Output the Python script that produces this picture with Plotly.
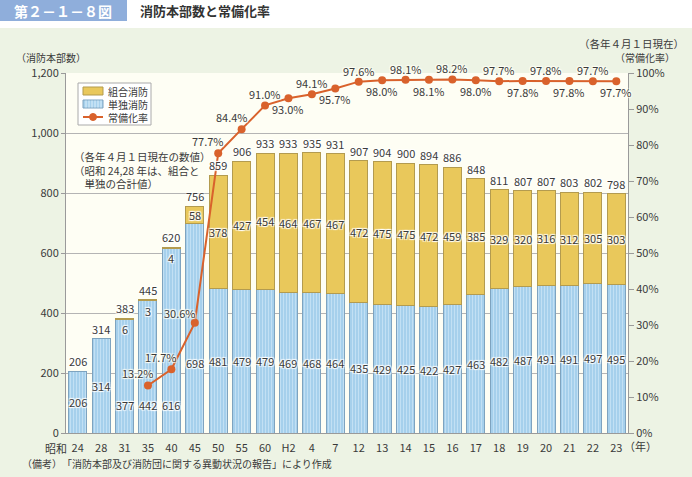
import plotly.graph_objects as go

# ---------------- data ----------------
categories = ["昭和24", "28", "31", "35", "40", "45", "50", "55", "60", "H2", "4", "7",
              "12", "13", "14", "15", "16", "17", "18", "19", "20", "21", "22", "23"]
tick_labels = ["24", "28", "31", "35", "40", "45", "50", "55", "60", "H2", "4", "7",
               "12", "13", "14", "15", "16", "17", "18", "19", "20", "21", "22", "23"]
tandoku = [206, 314, 377, 442, 616, 698, 481, 479, 479, 469, 468, 464,
           435, 429, 425, 422, 427, 463, 482, 487, 491, 491, 497, 495]
kumiai = [None, None, 6, 3, 4, 58, 378, 427, 454, 464, 467, 467,
          472, 475, 475, 472, 459, 385, 329, 320, 316, 312, 305, 303]
totals = [206, 314, 383, 445, 620, 756, 859, 906, 933, 933, 935, 931,
          907, 904, 900, 894, 886, 848, 811, 807, 807, 803, 802, 798]
rate = [None, None, None, 13.2, 17.7, 30.6, 77.7, 84.4, 91.0, 93.0, 94.1, 95.7,
        97.6, 98.0, 98.1, 98.1, 98.2, 98.0, 97.7, 97.8, 97.8, 97.8, 97.7, 97.7]
left_ticks = [0, 200, 400, 600, 800, 1000, 1200]
right_ticks = [0, 10, 20, 30, 40, 50, 60, 70, 80, 90, 100]
legend_names = ["組合消防", "単独消防", "常備化率"]

# ---------------- style ----------------
W, H = 692, 477
L, R, T, B = 66, 64, 73, 44
FONT = "Noto Sans CJK JP"
TXT = "#3a3a3a"
GREEN = "#EDF3E4"
CREAM = "#FEFEF4"
YELLOW = "#E9C85B"
YELLOW_LINE = "#B39B4F"
BLUE = "#A6D0EC"
BLUE_FG = "#DDF0FB"
BLUE_LINE = "#7EA3BF"
ORANGE = "#D9622C"
GRID = "#B4B4B4"
AXIS = "#9A9A9A"
HALO = "1px 1px 1px #fff, -1px -1px 1px #fff, 1px -1px 1px #fff, -1px 1px 1px #fff"
HALO_C = ("1px 1px 1px %s, -1px -1px 1px %s, 1px -1px 1px %s, -1px 1px 1px %s"
          % (CREAM, CREAM, CREAM, CREAM))

pw, ph = W - L - R, H - T - B
idx = list(range(len(categories)))


def px(x):
    return (x - L) / pw


def py(y):
    return (H - B - y) / ph


def note(x, y, text, xanchor="center", yanchor="middle", **font):
    f = dict(family=FONT, size=10.5, color=TXT)
    f.update(font)
    return dict(x=px(x), y=py(y), xref="paper", yref="paper", text=text,
                showarrow=False, xanchor=xanchor, yanchor=yanchor, font=f)


fig = go.Figure()

fig.add_trace(go.Bar(
    x=idx, y=tandoku, name=legend_names[1], yaxis="y",
    marker=dict(color=BLUE, line=dict(color=BLUE_LINE, width=1),
                pattern=dict(shape="|", bgcolor=BLUE, fgcolor=BLUE_FG,
                             size=3, solidity=0.35)),
    showlegend=False, hoverinfo="skip"))
fig.add_trace(go.Bar(
    x=idx, y=kumiai, name=legend_names[0], yaxis="y",
    marker=dict(color=YELLOW, line=dict(color=YELLOW_LINE, width=1)),
    showlegend=False, hoverinfo="skip"))
fig.add_trace(go.Scatter(
    x=idx, y=rate, name=legend_names[2], yaxis="y2", mode="lines+markers",
    line=dict(color=ORANGE, width=2), marker=dict(color=ORANGE, size=8),
    showlegend=False, hoverinfo="skip"))

ann = []
lab_font = dict(family=FONT, size=11, color=TXT, shadow=HALO)

# totals above bars
for i, t in zip(idx, totals):
    ann.append(dict(x=i, y=t, xref="x", yref="y", text=str(t), showarrow=False,
                    xanchor="center", yanchor="bottom", yshift=0, font=lab_font))

# blue segment labels
blue_label_override = {2: 93, 3: 93, 4: 93, 5: 233}
for i, v in zip(idx, tandoku):
    yy = blue_label_override.get(i, v / 2)
    ann.append(dict(x=i, y=yy, xref="x", yref="y", text=str(v), showarrow=False,
                    xanchor="center", yanchor="middle", font=lab_font))

# yellow segment labels
for i, v, b, t in zip(idx, kumiai, tandoku, totals):
    if v is None:
        continue
    if v < 20:
        ann.append(dict(x=i, y=t, xref="x", yref="y", text=str(v), showarrow=False,
                        xanchor="center", yanchor="top", yshift=-1, font=lab_font))
    else:
        ann.append(dict(x=i, y=b + v / 2, xref="x", yref="y", text=str(v),
                        showarrow=False, xanchor="center", yanchor="middle",
                        font=lab_font))

# rate labels
pfont = dict(family=FONT, size=11, color=TXT, shadow=HALO_C)
for i, r in zip(idx, rate):
    if r is None:
        continue
    if i <= 7:
        xs, ys = (-15, 10) if i == 5 else (-10, 12)
    elif i % 2 == 0:
        xs, ys = 0, 11
    else:
        xs, ys = 0, -11
    ann.append(dict(x=i, y=r, xref="x", yref="y2", text="%.1f%%" % r,
                    showarrow=False, xanchor="center", yanchor="middle",
                    xshift=xs, yshift=ys, font=pfont))

ann += [
    note(63, 11, "第２－１－８図", size=14, color="#ffffff", weight="bold"),
    note(138, 11, "消防本部数と常備化率", xanchor="left", size=13, color="#333333",
         weight="bold"),
    note(51, 58, "（消防本部数）", size=10),
    note(686, 43, "（各年４月１日現在）", xanchor="right"),
    note(645, 58, "（常備化率）", size=10),
    note(69, 448, "昭和", xanchor="right", size=11),
    note(622, 446, "（年）", xanchor="left", size=11),
    note(20, 463, "（備考）　「消防本部及び消防団に関する異動状況の報告」により作成",
         xanchor="left", size=10),
    dict(x=px(72), y=py(147), xref="paper", yref="paper", xanchor="left", yanchor="top",
         text="（各年４月１日現在の数値）<br>（昭和 24,28 年は、組合と<br>　単独の合計値）",
         showarrow=False, align="left", font=dict(family=FONT, size=10.5, color=TXT)),
]

# manual legend and header
LEG_Y = [91, 104, 117]
shapes = [
    dict(type="rect", xref="paper", yref="paper", x0=px(0), x1=px(W), y0=py(28), y1=py(0),
         fillcolor="#ffffff", line=dict(width=0), layer="below"),
    dict(type="rect", xref="paper", yref="paper", x0=px(0), x1=px(127), y0=py(21), y1=py(0),
         fillcolor="#8FAEDB", line=dict(width=0), layer="below"),
    dict(type="rect", xref="paper", yref="paper", x0=px(78), x1=px(151), y0=py(125), y1=py(83),
         fillcolor="#ffffff", line=dict(color="#aaaaaa", width=1)),
    dict(type="rect", xref="paper", yref="paper", x0=px(83), x1=px(103),
         y0=py(LEG_Y[0] + 4), y1=py(LEG_Y[0] - 4),
         fillcolor=YELLOW, line=dict(color=YELLOW_LINE, width=1)),
    dict(type="rect", xref="paper", yref="paper", x0=px(83), x1=px(103),
         y0=py(LEG_Y[1] + 4), y1=py(LEG_Y[1] - 4),
         fillcolor=BLUE, line=dict(color=BLUE_LINE, width=1)),
    dict(type="line", xref="paper", yref="paper", x0=px(83), x1=px(103),
         y0=py(LEG_Y[2]), y1=py(LEG_Y[2]), line=dict(color=ORANGE, width=2)),
    dict(type="circle", xref="paper", yref="paper", x0=px(89.5), x1=px(96.5),
         y0=py(LEG_Y[2] + 3.5), y1=py(LEG_Y[2] - 3.5),
         fillcolor=ORANGE, line=dict(color=ORANGE, width=1)),
]
for sx in [86, 89, 92, 95, 98, 101]:
    shapes.append(dict(type="line", xref="paper", yref="paper", x0=px(sx), x1=px(sx),
                       y0=py(LEG_Y[1] + 3.5), y1=py(LEG_Y[1] - 3.5),
                       line=dict(color=BLUE_FG, width=1)))
ann.append(dict(x=px(106), y=py(LEG_Y[1]), xref="paper", yref="paper",
                text="<br>".join(legend_names), showarrow=False, align="left",
                xanchor="left", yanchor="middle",
                font=dict(family=FONT, size=10, color=TXT)))

fig.update_layout(
    width=W, height=H, margin=dict(l=L, r=R, t=T, b=B, pad=0, autoexpand=False),
    paper_bgcolor=GREEN, plot_bgcolor=CREAM,
    barmode="stack", bargap=0.23,
    font=dict(family=FONT, size=11, color=TXT),
    showlegend=False,
    xaxis=dict(tickmode="array", tickvals=idx, ticktext=tick_labels, tickangle=0,
               range=[-0.5, len(categories) - 0.5], automargin=False,
               showline=True, linecolor=AXIS, linewidth=1, ticklabelstandoff=5,
               ticks="", showgrid=False, zeroline=False,
               tickfont=dict(family=FONT, size=11, color=TXT)),
    yaxis=dict(range=[0, 1200], tickmode="array", tickvals=left_ticks,
               ticktext=["{:,}".format(v) for v in left_ticks], automargin=False,
               showgrid=True, gridcolor=GRID, gridwidth=1, zeroline=False,
               showline=True, linecolor=AXIS, ticks="outside", ticklen=4,
               tickcolor=AXIS, tickfont=dict(family=FONT, size=11, color=TXT)),
    yaxis2=dict(range=[0, 100], tickmode="array", tickvals=right_ticks,
                ticktext=["%d%%" % v for v in right_ticks], automargin=False,
                overlaying="y", side="right", showgrid=False, zeroline=False,
                showline=True, linecolor=AXIS, ticks="outside", ticklen=5,
                tickcolor=AXIS, tickfont=dict(family=FONT, size=11, color=TXT)),
    annotations=ann, shapes=shapes,
)

fig.write_html("out.html", config={"displayModeBar": False},
               post_script="document.body.style.margin='0';document.body.style.padding='0';")
